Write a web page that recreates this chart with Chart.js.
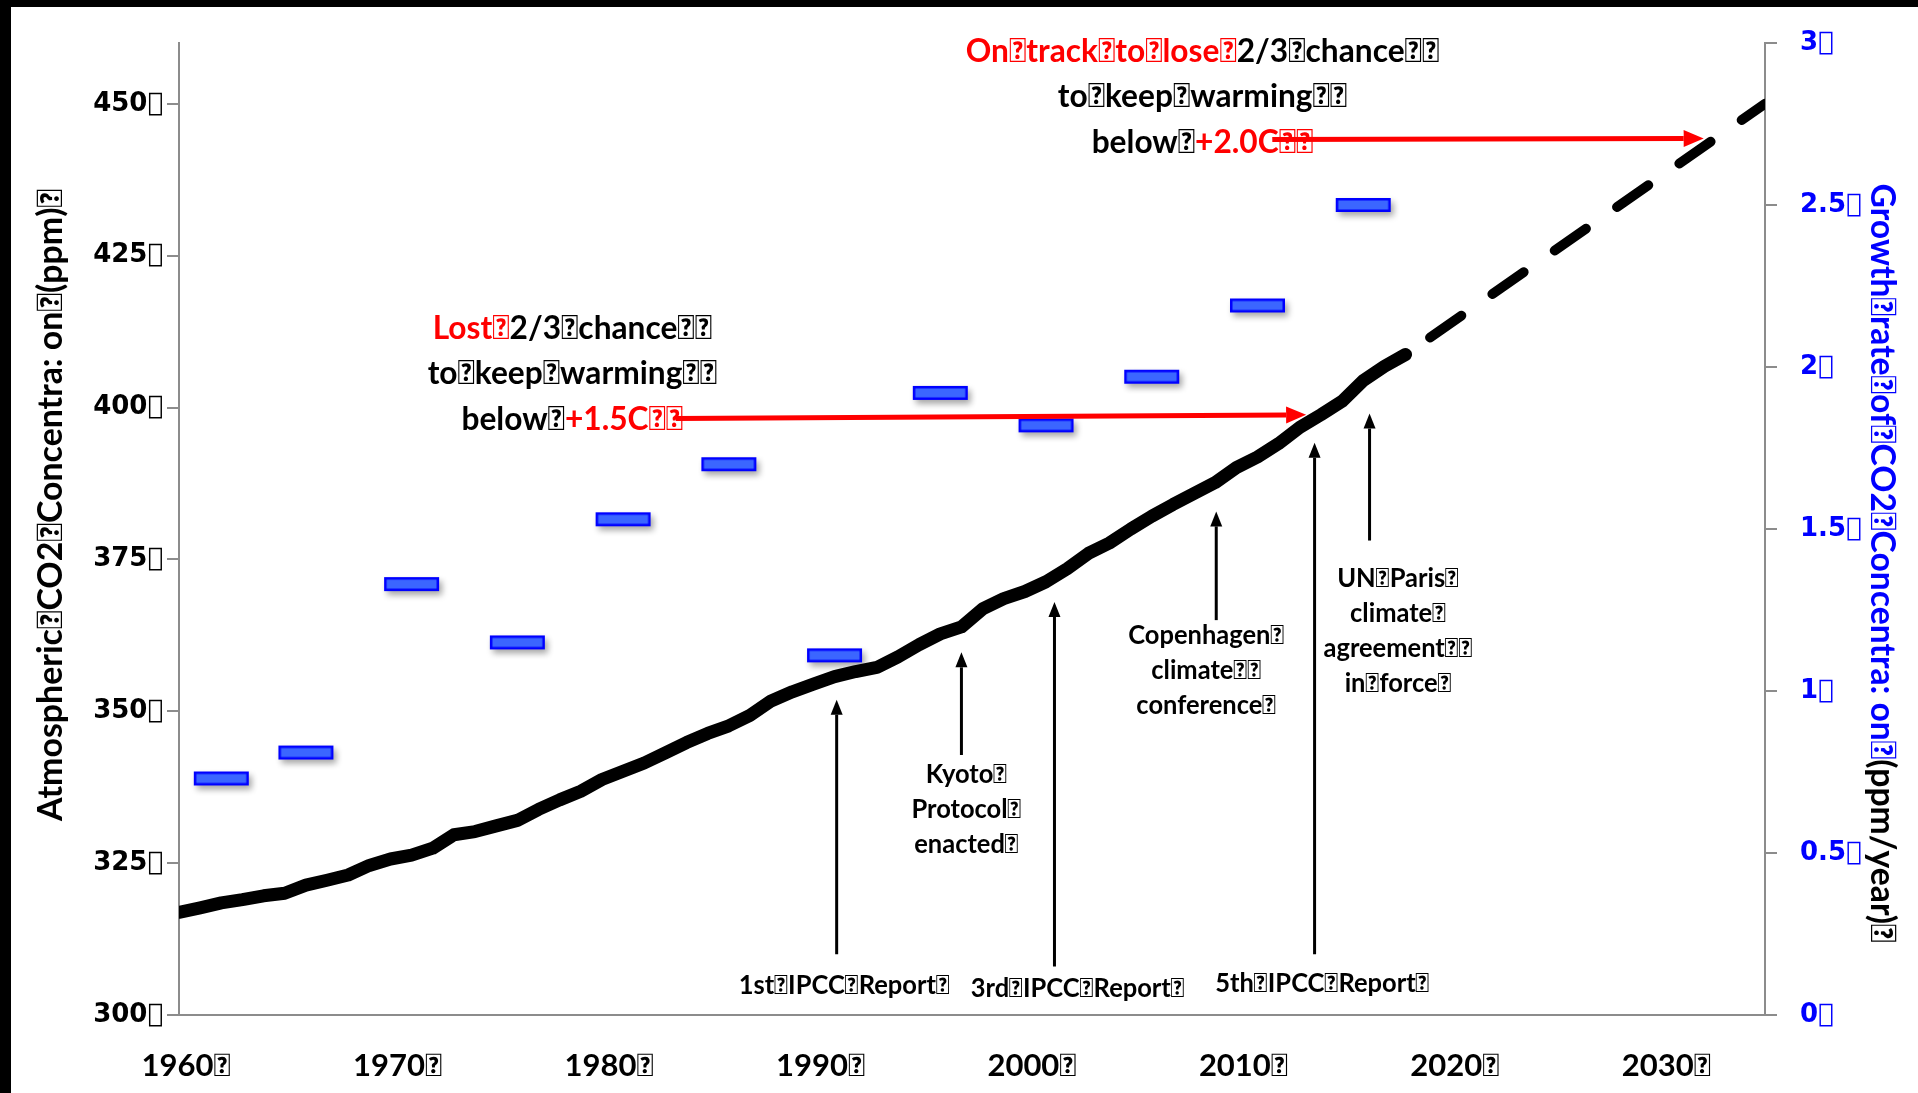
<!DOCTYPE html>
<html>
<head>
<meta charset="utf-8">
<script src="https://cdn.jsdelivr.net/npm/chart.js@4.4.1/dist/chart.umd.min.js"></script>
<style>
  html, body { margin: 0; padding: 0; background: #fff; overflow: hidden; }
  #wrap { width: 1918px; height: 1093px; position: relative; }
</style>
</head>
<body>
<div id="wrap"><canvas id="c" width="1918" height="1093"></canvas></div>
<script>
// Word separator glyph used throughout the slide text
const SEP = '\uF020';

// Mauna Loa annual mean CO2 (ppm)
const years = [1960,1961,1962,1963,1964,1965,1966,1967,1968,1969,
               1970,1971,1972,1973,1974,1975,1976,1977,1978,1979,
               1980,1981,1982,1983,1984,1985,1986,1987,1988,1989,
               1990,1991,1992,1993,1994,1995,1996,1997,1998,1999,
               2000,2001,2002,2003,2004,2005,2006,2007,2008,2009,
               2010,2011,2012,2013,2014,2015,2016,2017,2018];
const co2ppm = [316.91,317.64,318.45,318.99,319.62,320.04,321.37,322.18,323.05,324.62,
                325.68,326.32,327.46,329.68,330.19,331.13,332.03,333.84,335.41,336.84,
                338.76,340.12,341.48,343.15,344.85,346.35,347.61,349.31,351.69,353.20,
                354.45,355.70,356.54,357.21,358.96,360.97,362.74,363.88,366.84,368.54,
                369.71,371.32,373.45,375.98,377.70,379.98,382.09,384.02,385.83,387.64,
                390.10,391.85,394.06,396.74,398.81,401.01,404.41,406.76,408.72];

// Projected path to 2035
const projectionYears = [2018, 2035];
const projectionPpm = [408.7, 450];

// Five-year mean growth rate of CO2 (ppm/year)
const growthYears = [1962,1966,1971,1976,1981,1986,1991,1996,2001,2006,2011,2016];
const growthRate  = [0.73,0.81,1.33,1.15,1.53,1.70,1.11,1.92,1.82,1.97,2.19,2.50];

// Axis ticks
const xTickValues = [1960,1970,1980,1990,2000,2010,2020,2030];
const xTickLabels = ['1960','1970','1980','1990','2000','2010','2020','2030'];
const ppmTickValues = [300,325,350,375,400,425,450];
const ppmTickLabels = ['300','325','350','375','400','425','450'];
const rateTickValues = [0,0.5,1,1.5,2,2.5,3];
const rateTickLabels = ['0','0.5','1','1.5','2','2.5','3'];

const RED = '#ff0000';
const BLUE = '#0000ff';
const BLACK = '#000000';
const AXIS_GREY = '#8c8c8c';

// Policy milestones: arrow drawn at a year from tail ppm up to tip ppm, text block centred at (textYear, textPpm)
const milestones = [
  { year: 1991.1, tail: 310.0, tip: 351.9, textYear: 1991.46, textPpm: 304.8, lines: ['1st' + SEP + 'IPCC' + SEP + 'Report' + SEP] },
  { year: 1997.0, tail: 342.8, tip: 359.7, textYear: 1997.24, textPpm: 333.8, lines: ['Kyoto' + SEP, 'Protocol' + SEP, 'enacted' + SEP] },
  { year: 2001.4, tail: 308.0, tip: 368.0, textYear: 2002.5, textPpm: 304.4, lines: ['3rd' + SEP + 'IPCC' + SEP + 'Report' + SEP] },
  { year: 2009.05, tail: 365.0, tip: 382.9, textYear: 2008.58, textPpm: 356.7, lines: ['Copenhagen' + SEP, 'climate' + SEP + SEP, 'conference' + SEP] },
  { year: 2013.7, tail: 310.0, tip: 394.2, textYear: 2014.07, textPpm: 305.2, lines: ['5th' + SEP + 'IPCC' + SEP + 'Report' + SEP] },
  { year: 2016.3, tail: 378.1, tip: 399.0, textYear: 2017.65, textPpm: 363.2, lines: ['UN' + SEP + 'Paris' + SEP, 'climate' + SEP, 'agreement' + SEP + SEP, 'in' + SEP + 'force' + SEP] }
];

// Warming-threshold call-outs with red arrows
const thresholds = [
  { textYear: 1978.6, textPpm: 405.6,
    lines: [
      [['Lost' + SEP, RED], ['2/3' + SEP + 'chance' + SEP + SEP, BLACK]],
      [['to' + SEP + 'keep' + SEP + 'warming' + SEP + SEP, BLACK]],
      [['below' + SEP, BLACK], ['+1.5C' + SEP + SEP, RED]]
    ],
    arrow: { fromYear: 1983.5, fromPpm: 398.2, toYear: 2013.3, toPpm: 398.8 } },
  { textYear: 2008.4, textPpm: 451.2,
    lines: [
      [['On' + SEP + 'track' + SEP + 'to' + SEP + 'lose' + SEP, RED], ['2/3' + SEP + 'chance' + SEP + SEP, BLACK]],
      [['to' + SEP + 'keep' + SEP + 'warming' + SEP + SEP, BLACK]],
      [['below' + SEP, BLACK], ['+2.0C' + SEP + SEP, RED]]
    ],
    arrow: { fromYear: 2011.7, fromPpm: 444.1, toYear: 2032.1, toPpm: 444.3 } }
];

// Blue dash marker with a soft drop shadow for the growth-rate series
function makeMarker() {
  const w = 55, h = 14, pad = 12;
  const cv = document.createElement('canvas');
  cv.width = w + pad * 2; cv.height = h + pad * 2;
  const g = cv.getContext('2d');
  g.save();
  g.shadowColor = 'rgba(0,0,0,0.35)';
  g.shadowBlur = 6; g.shadowOffsetX = 3; g.shadowOffsetY = 4;
  g.fillStyle = '#3b66ff';
  g.fillRect(pad, pad, w, h);
  g.restore();
  g.strokeStyle = BLUE; g.lineWidth = 2.5;
  g.strokeRect(pad + 1.25, pad + 1.25, w - 2.5, h - 2.5);
  return cv;
}

function drawArrow(ctx, x0, y0, x1, y1, color, lw, headLen, headW) {
  const a = Math.atan2(y1 - y0, x1 - x0);
  const bx = x1 - headLen * Math.cos(a), by = y1 - headLen * Math.sin(a);
  ctx.save();
  ctx.strokeStyle = color; ctx.lineWidth = lw; ctx.lineCap = 'butt';
  ctx.beginPath(); ctx.moveTo(x0, y0); ctx.lineTo(bx, by); ctx.stroke();
  ctx.fillStyle = color;
  ctx.beginPath();
  ctx.moveTo(x1, y1);
  ctx.lineTo(bx + headW / 2 * Math.sin(a), by - headW / 2 * Math.cos(a));
  ctx.lineTo(bx - headW / 2 * Math.sin(a), by + headW / 2 * Math.cos(a));
  ctx.closePath(); ctx.fill();
  ctx.restore();
}

// Draws one line made of coloured runs, centred on (cx, cy)
function drawRuns(ctx, runs, cx, cy, font, squeeze) {
  ctx.save();
  ctx.font = font;
  const widths = runs.map(r => ctx.measureText(r[0]).width);
  const total = widths.reduce((a, b) => a + b, 0);
  ctx.translate(cx, cy);
  ctx.scale(squeeze, 1);
  ctx.textAlign = 'left'; ctx.textBaseline = 'middle';
  let x = -total / 2;
  runs.forEach((r, i) => { ctx.fillStyle = r[1]; ctx.fillText(r[0], x, 0); x += widths[i]; });
  ctx.restore();
}

// Rotated axis title fitted to a given length
function drawTitle(ctx, runs, cx, cy, rot, font, length) {
  ctx.save();
  ctx.font = font;
  const widths = runs.map(r => ctx.measureText(r[0]).width);
  const total = widths.reduce((a, b) => a + b, 0);
  ctx.translate(cx, cy);
  ctx.rotate(rot);
  ctx.scale(length / total, 1);
  ctx.textAlign = 'left'; ctx.textBaseline = 'middle';
  let x = -total / 2;
  runs.forEach((r, i) => { ctx.fillStyle = r[1]; ctx.fillText(r[0], x, 0); x += widths[i]; });
  ctx.restore();
}

const slideDecor = {
  id: 'slideDecor',
  beforeDraw(chart) {
    const ctx = chart.ctx;
    ctx.save();
    ctx.fillStyle = '#fff';
    ctx.fillRect(0, 0, chart.width, chart.height);
    ctx.fillStyle = '#000';
    ctx.fillRect(0, 0, chart.width, 7);
    ctx.fillRect(0, 0, 11, chart.height);
    ctx.restore();
  },
  afterDraw(chart) {
    const ctx = chart.ctx;
    const xs = chart.scales.x, ys = chart.scales.y;
    const X = v => xs.getPixelForValue(v), Y = v => ys.getPixelForValue(v);

    // milestone arrows and labels
    milestones.forEach(m => {
      drawArrow(ctx, X(m.year), Y(m.tail), X(m.year), Y(m.tip), BLACK, 3, 15, 12);
      const lh = 35;
      const cy = Y(m.textPpm);
      m.lines.forEach((t, i) => {
        drawRuns(ctx, [[t, BLACK]], X(m.textYear), cy + lh * (i - (m.lines.length - 1) / 2), 'bold 26px Lato', 0.98);
      });
    });

    // threshold call-outs
    thresholds.forEach(t => {
      const a = t.arrow;
      drawArrow(ctx, X(a.fromYear), Y(a.fromPpm), X(a.toYear), Y(a.toPpm), RED, 5, 20, 17);
      const lh = 45.5;
      const cy = Y(t.textPpm);
      t.lines.forEach((runs, i) => {
        drawRuns(ctx, runs, X(t.textYear), cy + lh * (i - (t.lines.length - 1) / 2), 'bold 33px Lato', 0.96);
      });
    });

    // axis titles
    drawTitle(ctx, [['Atmospheric' + SEP + 'CO2' + SEP + 'Concentra: on' + SEP + '(ppm)' + SEP, BLACK]],
      51, 505, -Math.PI / 2, 'bold 35px Lato', 632);
    drawTitle(ctx, [['Growth' + SEP + 'rate' + SEP + 'of' + SEP + 'CO2' + SEP + 'Concentra: on' + SEP, BLUE], ['(ppm/year)' + SEP, BLACK]],
      1882, 563, Math.PI / 2, 'bold 35px Lato', 759);
  }
};

const toPoints = (xsArr, ysArr) => xsArr.map((x, i) => ({ x, y: ysArr[i] }));

new Chart(document.getElementById('c'), {
  type: 'line',
  data: {
    datasets: [
      {
        label: 'Growth rate',
        data: toPoints(growthYears, growthRate),
        yAxisID: 'y1',
        showLine: false,
        pointStyle: makeMarker(),
        pointRadius: 5,
        clip: false,
        order: 3
      },
      {
        label: 'CO2',
        data: toPoints(years, co2ppm),
        yAxisID: 'y',
        borderColor: BLACK,
        borderWidth: 13,
        borderJoinStyle: 'round',
        borderCapStyle: 'round',
        pointRadius: 0,
        tension: 0,
        clip: 0,
        order: 2
      },
      {
        label: 'Projection',
        data: toPoints(projectionYears, projectionPpm),
        yAxisID: 'y',
        borderColor: BLACK,
        borderWidth: 10,
        borderDash: [38, 38],
        borderDashOffset: 46,
        borderCapStyle: 'round',
        pointRadius: 0,
        clip: 0,
        order: 1
      }
    ]
  },
  options: {
    responsive: false,
    animation: false,
    devicePixelRatio: 1,
    layout: { padding: { top: 43, left: 0, right: 0, bottom: 0 } },
    plugins: { legend: { display: false }, tooltip: { enabled: false } },
    scales: {
      x: {
        type: 'linear',
        min: 1960, max: 2035,
        position: 'bottom',
        afterFit: s => { s.height = 78; },
        afterBuildTicks: s => { s.ticks = xTickValues.map(v => ({ value: v })); },
        grid: { display: false, drawTicks: false },
        border: { display: true, color: AXIS_GREY, width: 2 },
        ticks: {
          padding: 32,
          labelOffset: 7,
          maxRotation: 0,
          autoSkip: false,
          color: BLACK,
          font: { family: 'Lato', weight: 'bold', size: 31 },
          callback: v => xTickLabels[xTickValues.indexOf(v)] + SEP
        }
      },
      y: {
        type: 'linear',
        position: 'left',
        min: 300, max: 460,
        afterFit: s => { s.width = 179; },
        afterBuildTicks: s => { s.ticks = ppmTickValues.map(v => ({ value: v })); },
        grid: { drawOnChartArea: false, drawTicks: true, tickLength: 12, color: AXIS_GREY, lineWidth: 2 },
        border: { display: true, color: AXIS_GREY, width: 2 },
        ticks: {
          padding: 4,
          color: BLACK,
          font: { family: 'DejaVu Sans', weight: 'bold', size: 26 },
          callback: v => ppmTickLabels[ppmTickValues.indexOf(v)] + SEP
        }
      },
      y1: {
        type: 'linear',
        position: 'right',
        min: 0, max: 3,
        afterFit: s => { s.width = 153; },
        afterBuildTicks: s => { s.ticks = rateTickValues.map(v => ({ value: v })); },
        grid: { drawOnChartArea: false, drawTicks: true, tickLength: 12, color: AXIS_GREY, lineWidth: 2 },
        border: { display: true, color: AXIS_GREY, width: 2 },
        ticks: {
          padding: 23,
          color: BLUE,
          font: { family: 'DejaVu Sans', weight: 'bold', size: 26 },
          callback: v => rateTickLabels[rateTickValues.indexOf(v)] + SEP
        }
      }
    }
  },
  plugins: [slideDecor]
});
</script>
</body>
</html>
